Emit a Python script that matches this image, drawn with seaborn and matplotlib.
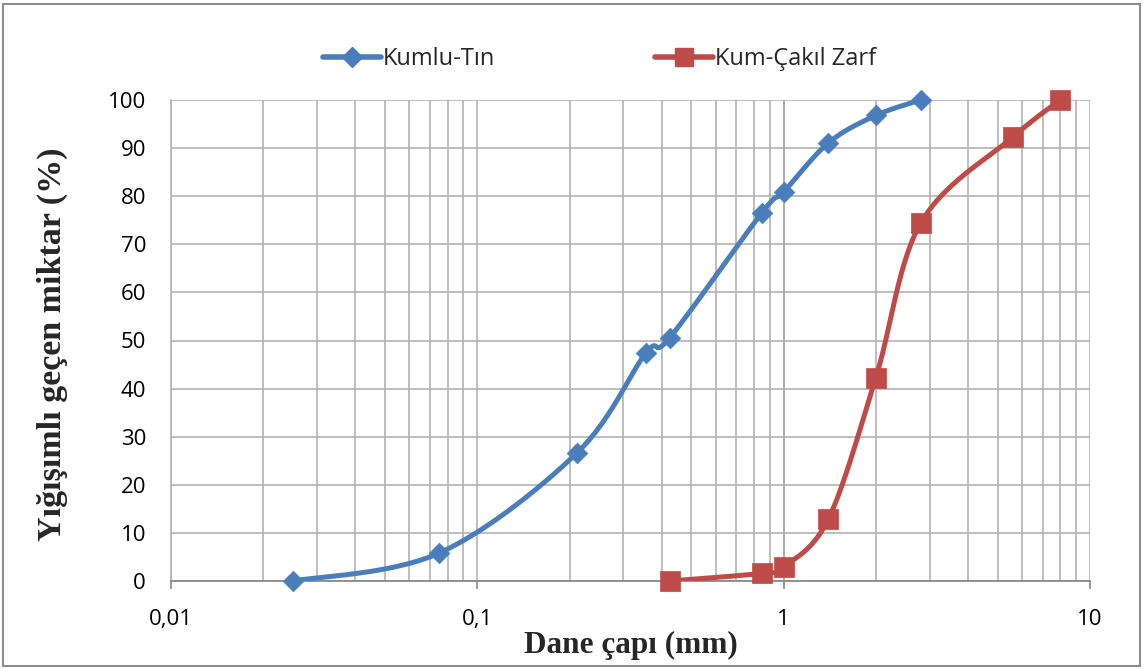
import numpy as np
import pandas as pd
import matplotlib
matplotlib.use("Agg")
import matplotlib.pyplot as plt
from matplotlib.lines import Line2D
from matplotlib.patches import Rectangle
from matplotlib.ticker import FixedLocator, LogLocator, NullFormatter
import seaborn as sns

# ---- data ----
kt_label = "Kumlu-Tın"
kt_x = [0.025, 0.075, 0.212, 0.355, 0.425, 0.85, 1.0, 1.4, 2.0, 2.8]
kt_y = [0.0, 5.8, 26.7, 47.4, 50.6, 76.6, 80.9, 91.1, 96.8, 100.0]

kc_label = "Kum-Çakıl Zarf"
kc_x = [0.425, 0.85, 1.0, 1.4, 2.0, 2.8, 5.6, 8.0]
kc_y = [0.0, 1.6, 2.9, 12.9, 42.3, 74.4, 92.3, 100.0]

x_ticks = [0.01, 0.1, 1, 10]
x_ticklabels = ["0,01", "0,1", "1", "10"]
y_ticks = list(range(0, 101, 10))
x_label = "Dane çapı (mm)"
y_label = "Yığışımlı geçen miktar (%)"

BLUE = "#4A7EBB"
RED = "#BE4B48"

sns.set_theme(style="white")
plt.rcParams["font.family"] = ["Open Sans", "DejaVu Sans"]

W, H = 1144, 669
AX_L, AX_R, AX_T, AX_B = 171, 1090, 100, 581


def smooth(xs, ys, n=40):
    """Excel-style smoothed line (Bezier through points, tension 1/6) in display-like space."""
    sx = (AX_R - AX_L) / 3.0
    sy = (AX_B - AX_T) / 100.0
    lx = np.log10(np.asarray(xs, float)) * sx
    ly = np.asarray(ys, float) * sy
    P = np.column_stack([lx, ly])
    out = [P[0]]
    m = len(P)
    for i in range(m - 1):
        p0 = P[i - 1] if i > 0 else P[i]
        p1 = P[i]
        p2 = P[i + 1]
        p3 = P[i + 2] if i + 2 < m else P[i + 1]
        c1 = p1 + (p2 - p0) / 6.0
        c2 = p2 - (p3 - p1) / 6.0
        t = np.linspace(0, 1, n)[1:, None]
        seg = ((1 - t) ** 3) * p1 + 3 * ((1 - t) ** 2) * t * c1 + 3 * (1 - t) * t ** 2 * c2 + t ** 3 * p2
        out.extend(seg)
    out = np.array(out)
    return 10 ** (out[:, 0] / sx), out[:, 1] / sy


fig = plt.figure(figsize=(W / 100, H / 100), dpi=100)
ax = fig.add_axes([AX_L / W, 1 - AX_B / H, (AX_R - AX_L) / W, (AX_B - AX_T) / H])
ax.set_xscale("log")
ax.set_xlim(0.01, 10)
ax.set_ylim(0, 100)

# grid
ax.xaxis.set_major_locator(FixedLocator(x_ticks))
ax.xaxis.set_minor_locator(LogLocator(base=10, subs=np.arange(2, 10), numticks=50))
ax.xaxis.set_minor_formatter(NullFormatter())
ax.set_xticklabels(x_ticklabels)
ax.set_yticks(y_ticks)
ax.grid(True, which="both", axis="x", color="#b3b3b3", lw=1.2, zorder=0)
ax.grid(True, which="major", axis="y", color="#b3b3b3", lw=1.2, zorder=0)
ax.axvline(1, color="#8a8a8a", lw=1.3, zorder=0.5)

for s in ["top", "right"]:
    ax.spines[s].set_visible(False)
ax.spines["left"].set_color("#b3b3b3")
ax.spines["left"].set_linewidth(1.2)
ax.spines["bottom"].set_color("#8a8a8a")
ax.spines["bottom"].set_linewidth(1.3)

ax.tick_params(axis="x", which="major", direction="out", length=6, width=1.2, color="#8a8a8a",
               bottom=True, labelsize=16, pad=14, labelcolor="#000000")
ax.tick_params(axis="x", which="minor", length=0)
ax.tick_params(axis="y", length=0, labelsize=16, pad=18, labelcolor="#000000")

# series
for xs, ys, col, mk, ms in [(kt_x, kt_y, BLUE, "D", 10.5), (kc_x, kc_y, RED, "s", 14)]:
    sx, sy = smooth(xs, ys)
    sns.lineplot(x=sx, y=sy, sort=False, color=col, lw=3.6, ax=ax, zorder=3, estimator=None)
    sns.scatterplot(x=xs, y=ys, marker=mk, s=ms ** 2, color=col, edgecolor=col, linewidth=0.5,
                    ax=ax, zorder=4, clip_on=False)

ax.set_xlabel("")
ax.set_ylabel("")
fig.text(631 / W, 1 - 653 / H, x_label, ha="center", va="baseline",
         fontfamily="Liberation Serif", fontweight="bold", fontsize=22.5)
fig.text(52 / W, 1 - 344 / H, y_label, ha="center", va="center", rotation=90,
         fontfamily="Liberation Serif", fontweight="bold", fontsize=24.5)

# legend: two entries placed at the reference positions
entries = [
    (Line2D([0], [0], color=BLUE, lw=4, marker="D", ms=10, markeredgecolor=BLUE), kt_label, 323),
    (Line2D([0], [0], color=RED, lw=4, marker="s", ms=13, markeredgecolor=RED), kc_label, 655),
]
for h, lab, x0 in entries:
    fig.legend([h], [lab], loc="center left", bbox_to_anchor=(x0 / W, 1 - 59 / H),
               frameon=False, fontsize=17, handlelength=2.45, handletextpad=0.1,
               borderpad=0, borderaxespad=0)

fig.patches.append(Rectangle((3 / W, 3 / H), 1137 / W, 662 / H, transform=fig.transFigure,
                             fill=False, edgecolor="#8c8c8c", lw=1.5))

fig.savefig("out.png", dpi=100)
